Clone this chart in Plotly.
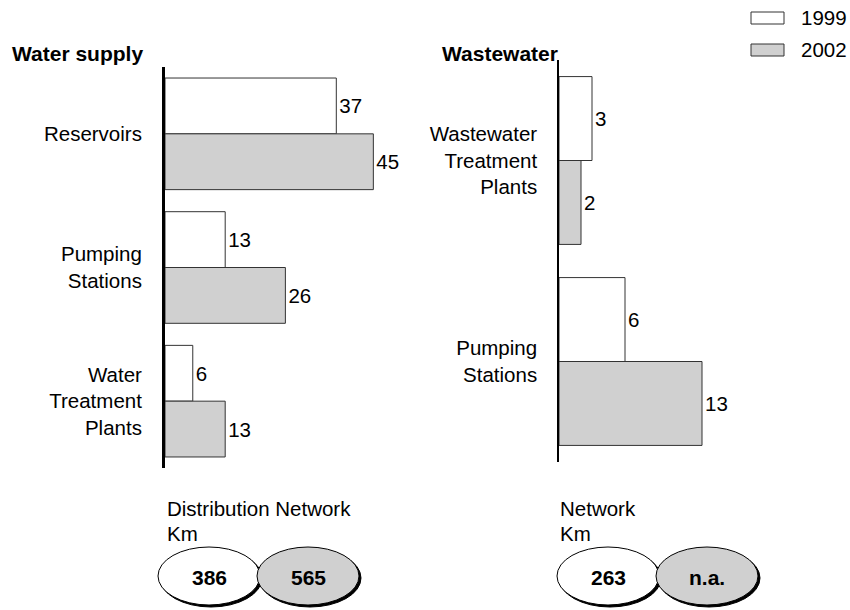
import plotly.graph_objects as go

# ---- data -------------------------------------------------------------
years = ["1999", "2002"]
year_colors = ["#ffffff", "#d0d0d0"]

supply_categories = ["Reservoirs", "Pumping<br>Stations", "Water<br>Treatment<br>Plants"]
supply_1999 = [37, 13, 6]
supply_2002 = [45, 26, 13]

waste_categories = ["Wastewater<br>Treatment<br>Plants", "Pumping<br>Stations"]
waste_1999 = [3, 6]
waste_2002 = [2, 13]

network_labels = ["Distribution Network", "Network"]
network_km = [["386", "565"], ["263", "n.a."]]

# ---- layout helpers (pixel -> paper) -----------------------------------
W, H = 850, 610
FONT = "Liberation Sans, Arial, sans-serif"
TXT = 20.5
BOLD = 21


def px(x):
    return x / W


def py(y):
    return 1 - y / H


fig = go.Figure()

bar_line = dict(color="#333333", width=1)
for vals, name, col in [(supply_1999, years[0], year_colors[0]),
                        (supply_2002, years[1], year_colors[1])]:
    fig.add_trace(go.Bar(
        y=supply_categories, x=vals, orientation="h", name=name,
        marker=dict(color=col, line=bar_line),
        text=[str(v) for v in vals], textposition="outside",
        textfont=dict(size=TXT, color="black", family=FONT),
        cliponaxis=False, constraintext="none",
        xaxis="x", yaxis="y", showlegend=False))

for vals, name, col in [(waste_1999, years[0], year_colors[0]),
                        (waste_2002, years[1], year_colors[1])]:
    fig.add_trace(go.Bar(
        y=waste_categories, x=vals, orientation="h", name=name,
        marker=dict(color=col, line=bar_line),
        text=[str(v) for v in vals], textposition="outside",
        textfont=dict(size=TXT, color="black", family=FONT),
        cliponaxis=False, constraintext="none",
        xaxis="x2", yaxis="y2", showlegend=False))

axis_font = dict(size=TXT, color="black", family=FONT)

fig.update_layout(
    width=W, height=H,
    margin=dict(l=0, r=0, t=0, b=0),
    paper_bgcolor="white", plot_bgcolor="rgba(0,0,0,0)",
    barmode="group", bargap=0.165, bargroupgap=0,
    font=dict(family=FONT, color="black"),
    xaxis=dict(domain=[px(165), px(165 + 50 * 4.63)], range=[0, 50],
               visible=False, fixedrange=True),
    yaxis=dict(domain=[py(468), py(67)], type="category",
               range=[2.5, -0.5], showline=True, linecolor="black",
               linewidth=3, showgrid=False, zeroline=False, ticks="",
               tickfont=axis_font, ticklabelstandoff=16, automargin=False),
    xaxis2=dict(domain=[px(559), px(559 + 18 * 11)], range=[0, 18],
                visible=False, fixedrange=True, anchor="y2"),
    yaxis2=dict(domain=[py(462), py(60)], type="category",
                range=[1.5, -0.5], showline=True, linecolor="black",
                linewidth=1.5, showgrid=False, zeroline=False, ticks="",
                tickfont=axis_font, ticklabelstandoff=16, automargin=False,
                anchor="x2"),
)

annotations = []
shapes = []

# panel titles
for text, x in [("Water supply", 10), ("Wastewater", 440)]:
    annotations.append(dict(
        text=f"<b>{text}</b>", x=px(x), y=py(53), xref="paper", yref="paper",
        xanchor="left", yanchor="middle", showarrow=False,
        font=dict(size=BOLD, color="black", family=FONT)))

# legend
for i, (yr, col) in enumerate(zip(years, year_colors)):
    yc = 18 + i * 32
    shapes.append(dict(type="rect", xref="paper", yref="paper",
                       x0=px(751), x1=px(784), y0=py(yc + 6), y1=py(yc - 6),
                       fillcolor=col, line=dict(color="#333333", width=1)))
    annotations.append(dict(
        text=yr, x=px(799), y=py(yc), xref="paper", yref="paper",
        xanchor="left", yanchor="middle", showarrow=False,
        font=dict(size=TXT, color="black", family=FONT)))

# network length ovals
oval_left = [158, 557]
for k, (label, vals) in enumerate(zip(network_labels, network_km)):
    x_text = oval_left[k] + 7 if k == 0 else oval_left[k] + 1
    for line, yline in [(label, 508), ("Km", 533)]:
        annotations.append(dict(
            text=line, x=px(x_text), y=py(yline), xref="paper", yref="paper",
            xanchor="left", yanchor="middle", showarrow=False,
            font=dict(size=TXT, color="black", family=FONT)))
    for j, (v, col) in enumerate(zip(vals, year_colors)):
        x0 = oval_left[k] + j * 99
        x1 = x0 + 102
        # drop shadow
        shapes.append(dict(type="circle", xref="paper", yref="paper",
                           x0=px(x0 + 2), x1=px(x1 + 2),
                           y0=py(605 + 2), y1=py(547 + 2),
                           fillcolor="black", line=dict(color="black", width=1)))
        shapes.append(dict(type="circle", xref="paper", yref="paper",
                           x0=px(x0), x1=px(x1), y0=py(605), y1=py(547),
                           fillcolor=col, line=dict(color="black", width=1)))
        annotations.append(dict(
            text=f"<b>{v}</b>", x=px((x0 + x1) / 2), y=py(577),
            xref="paper", yref="paper", xanchor="center", yanchor="middle",
            showarrow=False, font=dict(size=BOLD, color="black", family=FONT)))

fig.update_layout(annotations=annotations, shapes=shapes)

fig.write_html("out.html")
